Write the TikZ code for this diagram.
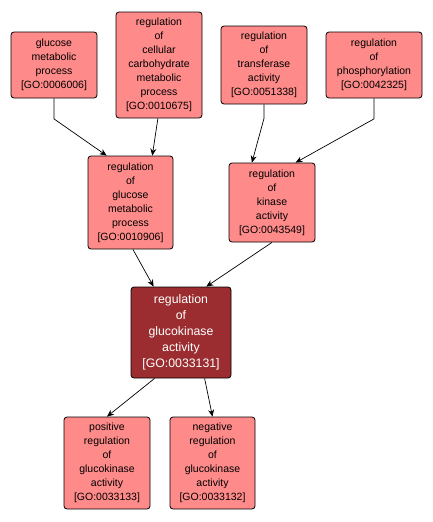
\documentclass[tikz,border=0pt]{standalone}
\usepackage{fontspec}
\setmainfont{Liberation Sans}
\usetikzlibrary{arrows.meta,calc}
\definecolor{lightnode}{HTML}{FF8A8A}
\definecolor{darknode}{HTML}{9B2D30}
\newcommand{\goid}[1]{\relax[GO:#1]}
\begin{document}
\begin{tikzpicture}[x=1pt,y=-1pt,
  gobox/.style={draw=black, line width=0.8pt, rounded corners=3pt, fill=lightnode,
    inner sep=0pt, align=center, font=\fontsize{10.5}{14}\selectfont},
  focusbox/.style={gobox, fill=darknode, text=white, font=\fontsize{12.3}{16}\selectfont},
  arr/.style={draw=black, line width=0.7pt, -{Stealth[length=7pt,width=6pt]}}]
\useasboundingbox[fill=white] (0,0) rectangle (433,522);

\node[gobox, minimum width=86pt, minimum height=66pt] (n1) at (54,65) {glucose\\metabolic\\process\\\goid{0006006}};
\node[gobox, minimum width=86pt, minimum height=106pt] (n2) at (159,65) {regulation\\of\\cellular\\carbohydrate\\metabolic\\process\\\goid{0010675}};
\node[gobox, minimum width=86pt, minimum height=78pt] (n4) at (264,65) {regulation\\of\\transferase\\activity\\\goid{0051338}};
\node[gobox, minimum width=96pt, minimum height=66pt] (n5) at (374,65) {regulation\\of\\phosphorylation\\\goid{0042325}};
\node[gobox, minimum width=85pt, minimum height=93pt] (n3) at (130.5,202.5) {regulation\\of\\glucose\\metabolic\\process\\\goid{0010906}};
\node[gobox, minimum width=86pt, minimum height=79pt] (n6) at (272,202.5) {regulation\\of\\kinase\\activity\\\goid{0043549}};
\node[focusbox, minimum width=100pt, minimum height=91pt] (n7) at (181,332.5) {regulation\\of\\glucokinase\\activity\\\goid{0033131}};
\node[gobox, minimum width=86pt, minimum height=92pt] (n8) at (107,463) {positive\\regulation\\of\\glucokinase\\activity\\\goid{0033133}};
\node[gobox, minimum width=85pt, minimum height=92pt] (n9) at (212.5,463) {negative\\regulation\\of\\glucokinase\\activity\\\goid{0033132}};

\draw[arr] (n1.south) -- ++(0,20.5) -- ($(n3.north west)+(19,0)$);
\draw[arr] ($(n2.south west)+(42.3,0)$) -- ($(n3.north west)+(64.7,0)$);
\draw[arr] (n4.south) -- ++(0,14) -- ($(n6.north west)+(23.3,0)$);
\draw[arr] (n5.south) -- ++(0,20.5) -- ($(n6.north west)+(67,0)$);
\draw[arr] ($(n3.south west)+(45.3,0)$) -- ($(n7.north west)+(23,0)$);
\draw[arr] (n6.south) -- ($(n7.north west)+(75.7,0)$);
\draw[arr] ($(n7.south west)+(24,0)$) -- (n8.north);
\draw[arr] ($(n7.south west)+(74,0)$) -- (n9.north);
\end{tikzpicture}
\end{document}
